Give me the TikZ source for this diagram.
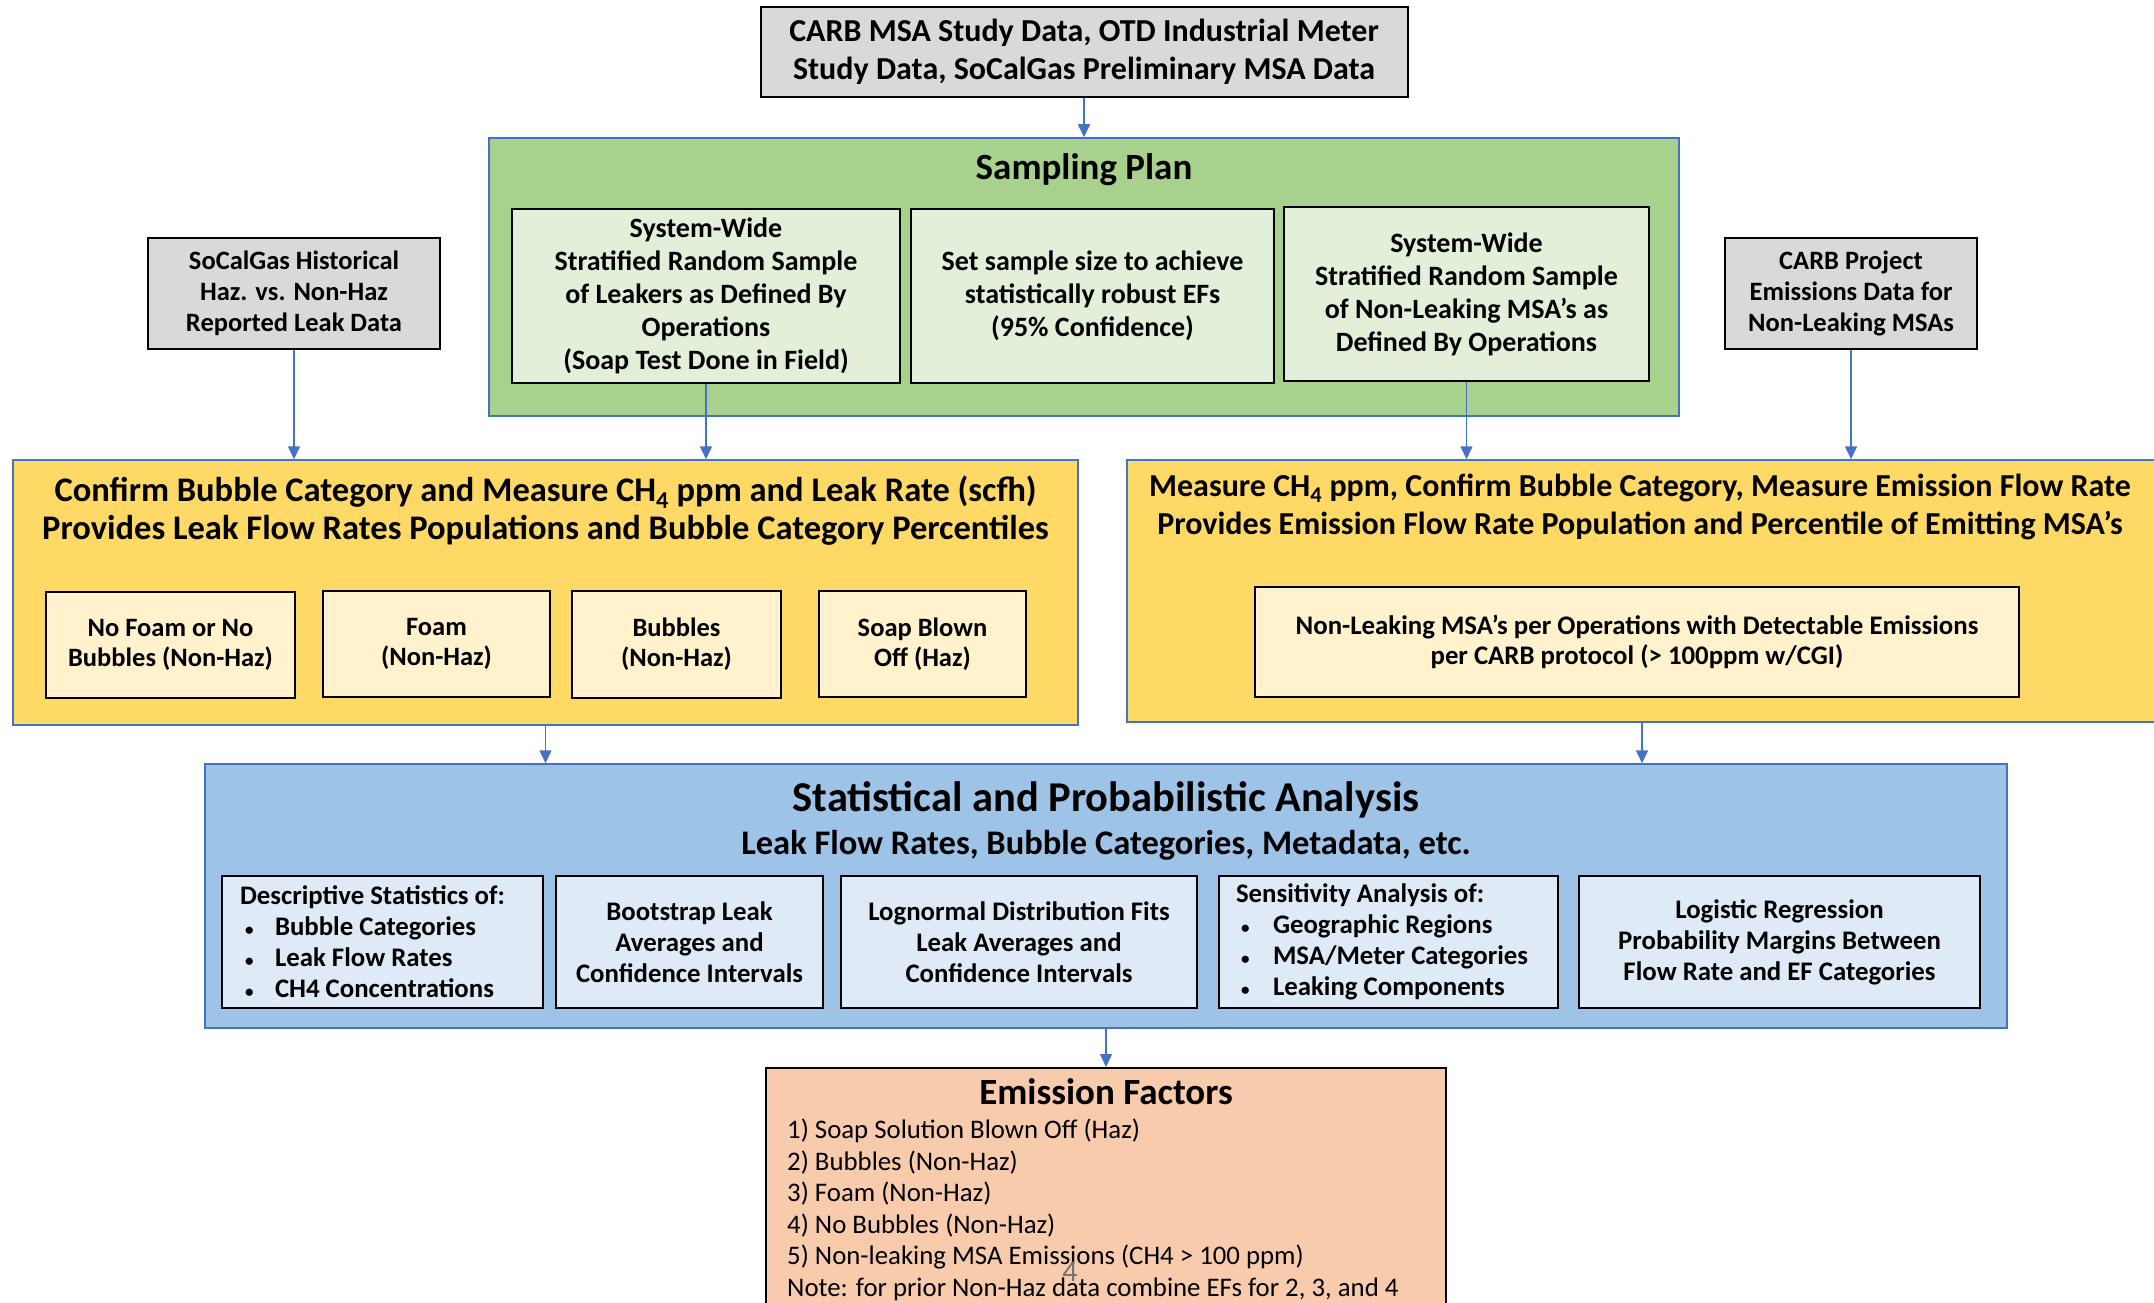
\documentclass[tikz,border=0pt]{standalone}
\usepackage{fontspec}
\setmainfont{Carlito}
\usetikzlibrary{arrows.meta}
\definecolor{linkblue}{HTML}{4472C4}
\definecolor{greyfill}{HTML}{D9D9D9}
\definecolor{planfill}{HTML}{A9D18E}
\definecolor{planinner}{HTML}{E2F0D9}
\definecolor{measfill}{HTML}{FFD966}
\definecolor{measinner}{HTML}{FFF2CC}
\definecolor{statfill}{HTML}{9DC3E6}
\definecolor{statinner}{HTML}{DEEBF7}
\definecolor{effill}{HTML}{F8CBAD}
\newcommand{\smbullet}[1]{\makebox[#1][l]{\hspace{5pt}{\fontsize{17}{17}\selectfont\textbullet}}}

\begin{document}
\begin{tikzpicture}[x=1pt,y=-1pt,
    outer/.style={draw=linkblue,line width=1.5pt,inner sep=0pt},
    inner/.style={draw=black,line width=2pt,align=center,inner sep=0pt},
    arr/.style={draw=linkblue,line width=1.5pt,-{Triangle[width=12pt,length=13pt]}},
    title/.style={align=center,inner sep=0pt,font=\fontsize{34.5}{38}\selectfont\bfseries}]
\clip (0,0) rectangle (2154,1303);
\fill[white] (0,0) rectangle (2154,1303);

\node[inner,fill=greyfill,minimum width=647pt,minimum height=90pt,font=\fontsize{32}{38}\selectfont\bfseries] (src) at (1084,52) {CARB MSA Study Data, OTD Industrial Meter\\Study Data, SoCalGas Preliminary MSA Data};

\node[outer,fill=planfill,minimum width=1190pt,minimum height=278pt] (plan) at (1084,277) {};
\node[title,font=\fontsize{37}{40}\selectfont\bfseries] (plantitle) at (1084,170) {Sampling Plan};
\node[inner,fill=planinner,minimum width=388pt,minimum height=174pt,font=\fontsize{28}{33}\selectfont\bfseries] (leak) at (706,296) {System-Wide\\Stratified Random Sample\\of Leakers as Defined By\\Operations\\(Soap Test Done in Field)};
\node[inner,fill=planinner,minimum width=363pt,minimum height=174pt,font=\fontsize{28}{33}\selectfont\bfseries] (size) at (1092.5,296) {Set sample size to achieve\\statistically robust EFs\\(95\% Confidence)};
\node[inner,fill=planinner,minimum width=365pt,minimum height=174pt,font=\fontsize{28}{33}\selectfont\bfseries] (nonleak) at (1466.5,294) {System-Wide\\Stratified Random Sample\\of Non-Leaking MSA’s as\\Defined By Operations};

\node[inner,fill=greyfill,minimum width=292pt,minimum height=111pt,font=\fontsize{26.5}{31}\selectfont\bfseries] (hist) at (294,293.5) {SoCalGas Historical\\Haz. vs. Non-Haz\\Reported Leak Data};
\node[inner,fill=greyfill,minimum width=252pt,minimum height=111pt,font=\fontsize{26.5}{31}\selectfont\bfseries] (carb) at (1851,293.5) {CARB Project\\Emissions Data for\\Non-Leaking MSAs};

\node[outer,fill=measfill,minimum width=1065pt,minimum height=265pt] (yleft) at (545.5,592.5) {};
\node[title] (ylefttitle) at (545.5,511) {Confirm Bubble Category and Measure CH\textsubscript{4} ppm and Leak Rate (scfh)\\Provides Leak Flow Rates Populations and Bubble Category Percentiles};
\node[inner,fill=measinner,minimum width=249pt,minimum height=106pt,font=\fontsize{26.5}{30}\selectfont\bfseries] (nofoam) at (170.5,645) {No Foam or No\\Bubbles (Non-Haz)};
\node[inner,fill=measinner,minimum width=227pt,minimum height=106pt,font=\fontsize{26.5}{30}\selectfont\bfseries] (foam) at (436.5,644) {Foam\\(Non-Haz)};
\node[inner,fill=measinner,minimum width=209pt,minimum height=107pt,font=\fontsize{26.5}{30}\selectfont\bfseries] (bubbles) at (676.5,644.5) {Bubbles\\(Non-Haz)};
\node[inner,fill=measinner,minimum width=207pt,minimum height=106pt,font=\fontsize{26.5}{30}\selectfont\bfseries] (blown) at (922.5,644) {Soap Blown\\Off (Haz)};

\node[outer,fill=measfill,minimum width=1030pt,minimum height=262pt] (yright) at (1642,591) {};
\node[title,font=\fontsize{32}{38}\selectfont\bfseries] (yrighttitle) at (1640,507) {Measure CH\textsubscript{4} ppm, Confirm Bubble Category, Measure Emission Flow Rate\\Provides Emission Flow Rate Population and Percentile of Emitting MSA’s};
\node[inner,fill=measinner,minimum width=764pt,minimum height=110pt,font=\fontsize{26.8}{30}\selectfont\bfseries] (detect) at (1637,642) {Non-Leaking MSA’s per Operations with Detectable Emissions\\per CARB protocol (> 100ppm w/CGI)};

\node[outer,fill=statfill,minimum width=1802pt,minimum height=264pt] (stat) at (1106,896) {};
\node[title,font=\fontsize{42.5}{44}\selectfont\bfseries] (stattitle) at (1106,800) {Statistical and Probabilistic Analysis};
\node[title,font=\fontsize{34.5}{38}\selectfont\bfseries] (statsub) at (1106,845) {Leak Flow Rates, Bubble Categories, Metadata, etc.};
\node[inner,fill=statinner,minimum width=321pt,minimum height=132pt,text width=285pt,align=flush left,font=\fontsize{26.8}{31}\selectfont\bfseries] (desc) at (382.5,942) {Descriptive Statistics of:\\\smbullet{35pt}Bubble Categories\\\smbullet{35pt}Leak Flow Rates\\\smbullet{35pt}CH4 Concentrations};
\node[inner,fill=statinner,minimum width=267pt,minimum height=132pt,font=\fontsize{26.8}{31}\selectfont\bfseries] (boot) at (689.5,942) {Bootstrap Leak\\Averages and\\Confidence Intervals};
\node[inner,fill=statinner,minimum width=356pt,minimum height=132pt,font=\fontsize{26.8}{31}\selectfont\bfseries] (logn) at (1019,942) {Lognormal Distribution Fits\\Leak Averages and\\Confidence Intervals};
\node[inner,fill=statinner,minimum width=339pt,minimum height=132pt,text width=305pt,align=flush left,font=\fontsize{26.8}{31}\selectfont\bfseries] (sens) at (1388.5,942) {Sensitivity Analysis of:\\\smbullet{37pt}Geographic Regions\\\smbullet{37pt}MSA/Meter Categories\\\smbullet{37pt}Leaking Components};
\node[inner,fill=statinner,minimum width=401pt,minimum height=132pt,font=\fontsize{26.8}{31}\selectfont\bfseries] (logi) at (1779.5,942) {Logistic Regression\\Probability Margins Between\\Flow Rate and EF Categories};

\node[draw=black,line width=2pt,fill=effill,minimum width=680pt,minimum height=252pt,inner sep=0pt] (ef) at (1106,1194) {};
\node[title,font=\fontsize{37}{40}\selectfont\bfseries] (eftitle) at (1106,1092) {Emission Factors};
\node[anchor=north west,align=left,inner sep=0pt,font=\fontsize{26.8}{31.5}\selectfont] (eflist) at (787,1119) {1) Soap Solution Blown Off (Haz)\\2) Bubbles (Non-Haz)\\3) Foam (Non-Haz)\\4) No Bubbles (Non-Haz)\\5) Non-leaking MSA Emissions (CH4 > 100 ppm)\\Note: for prior Non-Haz data combine EFs for 2, 3, and 4};
\node[text=black!55,font=\fontsize{30}{34}\selectfont] (pageno) at (1070,1272) {4};

\draw[arr] (src) -- (plan);
\draw[arr] (hist) -- (hist |- yleft.north);
\draw[arr] (leak) -- (leak |- yleft.north);
\draw[arr] (nonleak) -- (nonleak |- yright.north);
\draw[arr] (carb) -- (carb |- yright.north);
\draw[arr] (yleft) -- (yleft |- stat.north);
\draw[arr] (yright) -- (yright |- stat.north);
\draw[arr] (stat) -- (ef);
\end{tikzpicture}
\end{document}
